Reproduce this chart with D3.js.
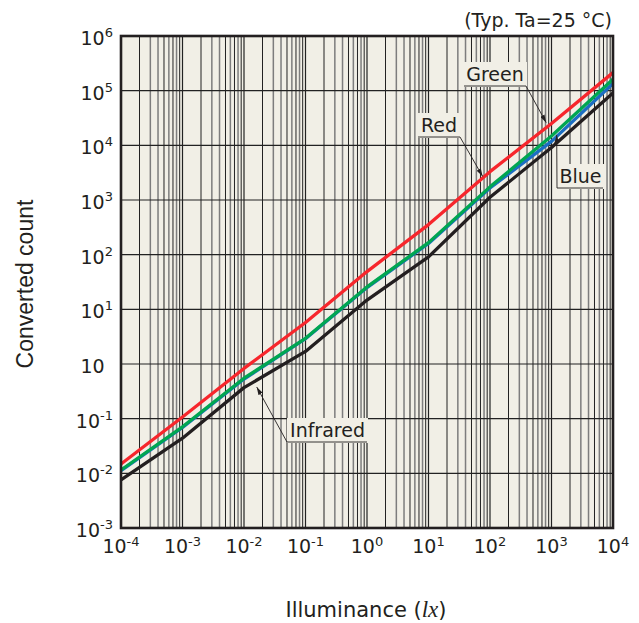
<!DOCTYPE html>
<html>
<head>
<meta charset="utf-8">
<script src="https://cdn.jsdelivr.net/npm/d3@7"></script>
<style>
  body { margin: 0; background: #fff; }
  text { font-family: "DejaVu Sans", Verdana, sans-serif; fill: #231f20; }
</style>
</head>
<body>
<div id="chart"></div>
<script>
// illuminance (lx) at each decade
const lux = [1e-4, 1e-3, 1e-2, 1e-1, 1, 1e1, 1e2, 1e3, 1e4];

// converted count
const redCount      = [0.0148, 0.107, 0.83, 5.75, 49, 355, 3300, 25100, 214000];
const greenCount    = [0.0115, 0.071, 0.55, 2.95, 25.7, 166, 1740, 14800, 162000];
const blueCount     = [0.0112, 0.069, 0.53, 2.9, 25, 160, 1660, 11800, 135000];
const infraredCount = [0.0076, 0.044, 0.37, 1.7, 14.8, 91, 1120, 9100, 91000];

const xTickExp = [-4, -3, -2, -1, 0, 1, 2, 3, 4];
const xTickSup = ["-4", "-3", "-2", "-1", "0", "1", "2", "3", "4"];
const yTickExp = [6, 5, 4, 3, 2, 1, 0, -1, -2, -3];
const yTickSup = ["6", "5", "4", "3", "2", "1", "", "-1", "-2", "-3"];

// label name, lux of arrow tip, count of arrow tip
const noteNames = ["Green", "Red", "Blue", "Infrared"];
const noteLux   = [820, 76, 1215, 0.0161];
const noteCount = [26000, 2700, 15500, 0.38];

const w = 639, h = 623;
const pLeft = 121, pRight = 613, pTop = 36, pBottom = 528;

const svg = d3.select('#chart').append('svg')
  .attr('width', w).attr('height', h);

const x = d3.scaleLog().domain([1e-4, 1e4]).range([pLeft, pRight]);
const y = d3.scaleLog().domain([1e-3, 1e6]).range([pBottom, pTop]);

svg.append('rect')
  .attr('x', pLeft).attr('y', pTop)
  .attr('width', pRight - pLeft).attr('height', pBottom - pTop)
  .attr('fill', '#f1efe6');

// minor vertical grid
const minor = [];
for (let e = -4; e < 4; e++) {
  for (let k = 2; k <= 9; k++) minor.push({ v: k * Math.pow(10, e), k: k });
}
const darkK = [2, 5, 7, 9];
svg.append('g').selectAll('line')
  .data(minor).enter().append('line')
  .attr('x1', d => x(d.v)).attr('x2', d => x(d.v))
  .attr('y1', pTop).attr('y2', pBottom)
  .attr('stroke', d => darkK.includes(d.k) ? '#222' : '#7d7d7d')
  .attr('stroke-width', d => darkK.includes(d.k) ? 1 : 1.5);

// major grid
svg.append('g').selectAll('line')
  .data(xTickExp).enter().append('line')
  .attr('x1', d => x(Math.pow(10, d))).attr('x2', d => x(Math.pow(10, d)))
  .attr('y1', pTop).attr('y2', pBottom)
  .attr('stroke', '#222').attr('stroke-width', 1.2);

svg.append('g').selectAll('line')
  .data(yTickExp).enter().append('line')
  .attr('y1', d => y(Math.pow(10, d))).attr('y2', d => y(Math.pow(10, d)))
  .attr('x1', pLeft).attr('x2', pRight)
  .attr('stroke', '#222').attr('stroke-width', 1.2);

// curves
const line = d3.line()
  .x(d => x(d[0]))
  .y(d => y(d[1]));

const series = [
  { vals: infraredCount, color: '#231f20' },
  { vals: blueCount, color: '#1b6ec2' },
  { vals: greenCount, color: '#00a651' },
  { vals: redCount, color: '#f7262c' }
];
series.forEach(s => {
  svg.append('path')
    .datum(lux.map((l, i) => [l, s.vals[i]]))
    .attr('d', line)
    .attr('fill', 'none')
    .attr('stroke', s.color)
    .attr('stroke-width', 3.3)
    .attr('stroke-linejoin', 'round');
});

// frame
svg.append('rect')
  .attr('x', pLeft).attr('y', pTop)
  .attr('width', pRight - pLeft).attr('height', pBottom - pTop)
  .attr('fill', 'none').attr('stroke', '#231f20').attr('stroke-width', 2.6);

// tick labels
const yl = svg.append('g').selectAll('text')
  .data(yTickExp).enter().append('text')
  .attr('x', 113)
  .attr('y', d => y(Math.pow(10, d)) + 9)
  .attr('text-anchor', 'end')
  .style('font-size', '19px');
yl.append('tspan').text('10');
yl.append('tspan')
  .attr('dy', -8)
  .style('font-size', '13px')
  .style('fill-opacity', (d, i) => yTickSup[i] === '' ? 0 : 1)
  .text((d, i) => yTickSup[i] === '' ? '0' : yTickSup[i]);

const xl = svg.append('g').selectAll('text')
  .data(xTickExp).enter().append('text')
  .attr('x', d => x(Math.pow(10, d)))
  .attr('y', 553)
  .attr('text-anchor', 'middle')
  .style('font-size', '19px');
xl.append('tspan').text('10');
xl.append('tspan')
  .attr('dy', -7)
  .style('font-size', '13px')
  .text((d, i) => xTickSup[i]);

// titles
svg.append('text')
  .attr('x', 612).attr('y', 27)
  .attr('text-anchor', 'end')
  .style('font-size', '19px')
  .text('(Typ. Ta=25 °C)');

svg.append('text')
  .attr('transform', 'translate(33,284) rotate(-90)')
  .attr('text-anchor', 'middle')
  .style('font-family', '"Liberation Sans", Arial, sans-serif')
  .style('font-size', '23px')
  .text('Converted count');

const xt = svg.append('text')
  .attr('x', 366).attr('y', 617)
  .attr('text-anchor', 'middle')
  .style('font-size', '21px');
xt.append('tspan').text('Illuminance (');
xt.append('tspan')
  .style('font-family', '"Liberation Serif", "Times New Roman", serif')
  .style('font-style', 'italic')
  .style('font-size', '23px')
  .text('lx');
xt.append('tspan').text(')');

// annotations
svg.append('defs').append('marker')
  .attr('id', 'arrow')
  .attr('viewBox', '0 0 10 6')
  .attr('refX', 10).attr('refY', 3)
  .attr('markerWidth', 8).attr('markerHeight', 5)
  .attr('markerUnits', 'userSpaceOnUse')
  .attr('orient', 'auto')
  .append('path').attr('d', 'M0,0 L10,3 L0,6 Z').attr('fill', '#231f20');

const noteBox = [
  { bx: 463, by: 62, bw: 64, bh: 25, ux1: 464, ux2: 526, uy: 86, sx: 526, sy: 86 },
  { bx: 417, by: 113, bw: 44, bh: 25, ux1: 418, ux2: 460, uy: 137, sx: 460, sy: 137 },
  { bx: 557, by: 164, bw: 47, bh: 25, ux1: 557, ux2: 603, uy: 188, sx: 557, sy: 188 },
  { bx: 287, by: 418, bw: 81, bh: 25, ux1: 287, ux2: 367, uy: 442, sx: 287, sy: 442 }
];

noteNames.forEach((name, i) => {
  const b = noteBox[i];
  const tx = x(noteLux[i]), ty = y(noteCount[i]);
  const g = svg.append('g');
  g.append('rect')
    .attr('x', b.bx).attr('y', b.by)
    .attr('width', b.bw).attr('height', b.bh)
    .attr('fill', '#f1efe6');
  g.append('text')
    .attr('x', b.bx + b.bw / 2).attr('y', b.by + 19)
    .attr('text-anchor', 'middle')
    .style('font-size', '19px')
    .text(name);
  g.append('line')
    .attr('x1', b.ux1).attr('x2', b.ux2)
    .attr('y1', b.uy).attr('y2', b.uy)
    .attr('stroke', '#231f20').attr('stroke-width', 0.9);
  g.append('line')
    .attr('x1', b.sx).attr('y1', b.sy)
    .attr('x2', tx).attr('y2', ty)
    .attr('stroke', '#231f20').attr('stroke-width', 0.9)
    .attr('marker-end', 'url(#arrow)');
});
</script>
</body>
</html>
